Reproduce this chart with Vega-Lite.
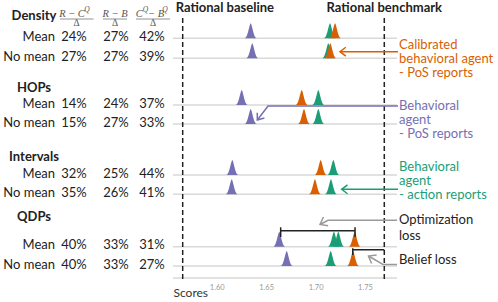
{
  "$schema": "https://vega.github.io/schema/vega-lite/v6.json",
  "padding": 0,
  "background": "white",
  "spacing": 0,
  "bounds": "flush",
  "config": {"view": {"stroke": null}, "font": "Lato"},
  "datasets": {
    "groups": [
      {"group": "Density", "y": 1.6},
      {"group": "HOPs", "y": 8.75},
      {"group": "Intervals", "y": 15.65},
      {"group": "QDPs", "y": 21.65}
    ],
    "rows": [
      {"row": "Density Mean", "cond": "Mean", "y": 3.83, "p1": "24%", "p2": "27%", "p3": "42%"},
      {"row": "Density No mean", "cond": "No mean", "y": 5.83, "p1": "27%", "p2": "27%", "p3": "39%"},
      {"row": "HOPs Mean", "cond": "Mean", "y": 10.5, "p1": "14%", "p2": "24%", "p3": "37%"},
      {"row": "HOPs No mean", "cond": "No mean", "y": 12.4, "p1": "15%", "p2": "27%", "p3": "33%"},
      {"row": "Intervals Mean", "cond": "Mean", "y": 17.5, "p1": "32%", "p2": "25%", "p3": "44%"},
      {"row": "Intervals No mean", "cond": "No mean", "y": 19.43, "p1": "35%", "p2": "26%", "p3": "41%"},
      {"row": "QDPs Mean", "cond": "Mean", "y": 24.67, "p1": "40%", "p2": "33%", "p3": "31%"},
      {"row": "QDPs No mean", "cond": "No mean", "y": 26.6, "p1": "40%", "p2": "33%", "p3": "27%"}
    ],
    "hdr": [
      {"t": "R − C", "k": "n", "x": 72, "y": 1.35},
      {"t": "Q", "k": "s", "x": 87, "y": 0.95},
      {"t": "R − B", "k": "n", "x": 115, "y": 1.35},
      {"t": "C", "k": "n", "x": 139.2, "y": 1.35},
      {"t": "Q", "k": "s", "x": 145.5, "y": 0.95},
      {"t": "− B", "k": "n", "x": 156, "y": 1.35},
      {"t": "Q", "k": "s", "x": 165, "y": 0.95},
      {"t": "Δ", "k": "d", "x": 76.5, "y": 2.3},
      {"t": "Δ", "k": "d", "x": 115, "y": 2.3},
      {"t": "Δ", "k": "d", "x": 153, "y": 2.3}
    ],
    "hdrbars": [
      {"x": 60, "x2": 93.5, "y": 1.9},
      {"x": 103, "x2": 127, "y": 1.9},
      {"x": 136, "x2": 170, "y": 1.9}
    ],
    "bench": [
      {"name": "Rational baseline", "score": 1.5656},
      {"name": "Rational benchmark", "score": 1.7695}
    ],
    "peaks": [
      {"row": "Density Mean", "agent": "beh", "score": 1.6344},
      {"row": "Density Mean", "agent": "act", "score": 1.7146},
      {"row": "Density Mean", "agent": "cal", "score": 1.7197},
      {"row": "Density No mean", "agent": "beh", "score": 1.636},
      {"row": "Density No mean", "agent": "act", "score": 1.7129},
      {"row": "Density No mean", "agent": "cal", "score": 1.7149},
      {"row": "HOPs Mean", "agent": "beh", "score": 1.6253},
      {"row": "HOPs Mean", "agent": "act", "score": 1.7028},
      {"row": "HOPs Mean", "agent": "cal", "score": 1.686},
      {"row": "HOPs No mean", "agent": "beh", "score": 1.6344},
      {"row": "HOPs No mean", "agent": "act", "score": 1.7028},
      {"row": "HOPs No mean", "agent": "cal", "score": 1.6883},
      {"row": "Intervals Mean", "agent": "beh", "score": 1.6158},
      {"row": "Intervals Mean", "agent": "act", "score": 1.718},
      {"row": "Intervals Mean", "agent": "cal", "score": 1.7052},
      {"row": "Intervals No mean", "agent": "beh", "score": 1.6152},
      {"row": "Intervals No mean", "agent": "act", "score": 1.7156},
      {"row": "Intervals No mean", "agent": "cal", "score": 1.6994},
      {"row": "QDPs Mean", "agent": "beh", "score": 1.6633},
      {"row": "QDPs Mean", "agent": "act", "score": 1.7186},
      {"row": "QDPs Mean", "agent": "act", "score": 1.723},
      {"row": "QDPs Mean", "agent": "cal", "score": 1.7396},
      {"row": "QDPs No mean", "agent": "beh", "score": 1.6708},
      {"row": "QDPs No mean", "agent": "act", "score": 1.7153},
      {"row": "QDPs No mean", "agent": "cal", "score": 1.7379}
    ],
    "brackets": [
      {"x": 1.6647, "x2": 1.7399, "y": 23.07, "y2": 23.07},
      {"x": 1.6647, "x2": 1.6647, "y": 22.73, "y2": 23.7},
      {"x": 1.7399, "x2": 1.7399, "y": 22.73, "y2": 23.7},
      {"x": 1.7376, "x2": 1.7695, "y": 24.97, "y2": 24.97},
      {"x": 1.7376, "x2": 1.7376, "y": 24.83, "y2": 25.5}
    ],
    "alines": [
      {"id": "cal", "agent": "cal", "o": 1, "x": 1.7834, "y": 5.17},
      {"id": "cal", "agent": "cal", "o": 2, "x": 1.7247, "y": 5.17},
      {"id": "behp", "agent": "beh", "o": 1, "x": 1.7834, "y": 10.6},
      {"id": "behp", "agent": "beh", "o": 2, "x": 1.6519, "y": 10.6},
      {"id": "behp", "agent": "beh", "o": 3, "x": 1.6411, "y": 12.0},
      {"id": "act", "agent": "act", "o": 1, "x": 1.7834, "y": 18.93},
      {"id": "act", "agent": "act", "o": 2, "x": 1.7264, "y": 18.93},
      {"id": "opt", "agent": "lossline", "o": 1, "x": 1.7824, "y": 22.03},
      {"id": "opt", "agent": "lossline", "o": 2, "x": 1.7126, "y": 22.03},
      {"id": "opt", "agent": "lossline", "o": 3, "x": 1.7045, "y": 22.45},
      {"id": "bel", "agent": "lossline", "o": 1, "x": 1.7824, "y": 26.45},
      {"id": "bel", "agent": "lossline", "o": 2, "x": 1.7682, "y": 26.45},
      {"id": "bel", "agent": "lossline", "o": 3, "x": 1.7535, "y": 25.6}
    ],
    "aheads": [
      {"id": "cal", "agent": "cal", "x": 1.7247, "y": 5.17},
      {"id": "act", "agent": "act", "x": 1.7264, "y": 18.93},
      {"id": "behp", "agent": "beh", "x": 1.6411, "y": 12.0},
      {"id": "opt", "agent": "lossline", "x": 1.7045, "y": 22.45},
      {"id": "bel", "agent": "lossline", "x": 1.7535, "y": 25.6}
    ],
    "atext": [
      {"t": "Calibrated", "agent": "cal", "y": 4.6},
      {"t": "behavioral agent", "agent": "cal", "y": 6.0},
      {"t": "- PoS reports", "agent": "cal", "y": 7.35},
      {"t": "Behavioral", "agent": "beh", "y": 10.65},
      {"t": "agent", "agent": "beh", "y": 12.05},
      {"t": "- PoS reports", "agent": "beh", "y": 13.45},
      {"t": "Behavioral", "agent": "act", "y": 16.83},
      {"t": "agent", "agent": "act", "y": 18.23},
      {"t": "- action reports", "agent": "act", "y": 19.57},
      {"t": "Optimization", "agent": "loss", "y": 22.07},
      {"t": "loss", "agent": "loss", "y": 23.73},
      {"t": "Belief loss", "agent": "loss", "y": 26.1}
    ]
  },
  "hconcat": [
    {
      "width": 173,
      "height": 278,
      "layer": [
        {
          "data": {"name": "groups"},
          "mark": {"type": "text", "fontWeight": "bold", "fontSize": 13, "align": "center", "baseline": "middle", "color": "#222"},
          "encoding": {
            "x": {"datum": 34, "type": "quantitative", "scale": {"domain": [0, 173], "nice": false, "zero": false}, "axis": null},
            "y": {"field": "y", "type": "quantitative", "scale": {"domain": [0, 27.8], "reverse": true, "nice": false, "zero": false}, "axis": null},
            "text": {"field": "group"}
          }
        },
        {
          "data": {"name": "rows"},
          "mark": {"type": "text", "fontSize": 13, "align": "right", "baseline": "middle", "color": "#222", "dy": -1.5},
          "encoding": {
            "x": {"datum": 55, "type": "quantitative", "axis": null},
            "y": {"field": "y", "type": "quantitative", "axis": null},
            "text": {"field": "cond"}
          }
        },
        {
          "data": {"name": "rows"},
          "mark": {"type": "text", "fontSize": 13, "align": "center", "baseline": "middle", "color": "#222", "dy": -1.5},
          "encoding": {
            "x": {"datum": 74, "type": "quantitative", "axis": null},
            "y": {"field": "y", "type": "quantitative", "axis": null},
            "text": {"field": "p1"}
          }
        },
        {
          "data": {"name": "rows"},
          "mark": {"type": "text", "fontSize": 13, "align": "center", "baseline": "middle", "color": "#222", "dy": -1.5},
          "encoding": {
            "x": {"datum": 116, "type": "quantitative", "axis": null},
            "y": {"field": "y", "type": "quantitative", "axis": null},
            "text": {"field": "p2"}
          }
        },
        {
          "data": {"name": "rows"},
          "mark": {"type": "text", "fontSize": 13, "align": "center", "baseline": "middle", "color": "#222", "dy": -1.5},
          "encoding": {
            "x": {"datum": 152, "type": "quantitative", "axis": null},
            "y": {"field": "y", "type": "quantitative", "axis": null},
            "text": {"field": "p3"}
          }
        },
        {
          "data": {"name": "hdr"},
          "transform": [{"filter": "datum.k === 'n'"}],
          "mark": {"type": "text", "font": "Liberation Serif", "fontStyle": "italic", "fontSize": 10.5, "align": "center", "baseline": "middle", "color": "#555"},
          "encoding": {
            "x": {"field": "x", "type": "quantitative", "axis": null},
            "y": {"field": "y", "type": "quantitative", "axis": null},
            "text": {"field": "t"}
          }
        },
        {
          "data": {"name": "hdr"},
          "transform": [{"filter": "datum.k === 's'"}],
          "mark": {"type": "text", "font": "Liberation Serif", "fontStyle": "italic", "fontSize": 7.5, "align": "center", "baseline": "middle", "color": "#555"},
          "encoding": {
            "x": {"field": "x", "type": "quantitative", "axis": null},
            "y": {"field": "y", "type": "quantitative", "axis": null},
            "text": {"field": "t"}
          }
        },
        {
          "data": {"name": "hdr"},
          "transform": [{"filter": "datum.k === 'd'"}],
          "mark": {"type": "text", "font": "Liberation Serif", "fontSize": 9.5, "align": "center", "baseline": "middle", "color": "#555"},
          "encoding": {
            "x": {"field": "x", "type": "quantitative", "axis": null},
            "y": {"field": "y", "type": "quantitative", "axis": null},
            "text": {"field": "t"}
          }
        },
        {
          "data": {"name": "hdrbars"},
          "mark": {"type": "rule", "color": "#777", "strokeWidth": 0.8},
          "encoding": {
            "x": {"field": "x", "type": "quantitative", "axis": null},
            "x2": {"field": "x2"},
            "y": {"field": "y", "type": "quantitative", "axis": null}
          }
        }
      ]
    },
    {
      "width": 325,
      "height": 278,
      "layer": [
        {
          "data": {"name": "rows"},
          "mark": {"type": "rule", "color": "#d9d9d9", "strokeWidth": 1.5},
          "encoding": {
            "x": {
              "datum": 1.5558, "type": "quantitative",
              "scale": {"domain": [1.5558, 1.8845], "nice": false, "zero": false},
              "axis": {
                "values": [1.6, 1.65, 1.7, 1.75], "format": ".2f", "domain": false, "ticks": false, "tickSize": 0, "grid": false,
                "labelFontSize": 7.5, "labelColor": "#999", "labelPadding": 5,
                "title": "Scores", "titleFontSize": 12, "titleFontWeight": "normal", "titleColor": "#333",
                "titleAnchor": "start", "titleAlign": "left", "titleX": 0, "titleY": 14, "titleBaseline": "middle"
              }
            },
            "x2": {"datum": 1.7824},
            "y": {"field": "y", "type": "quantitative", "scale": {"domain": [0, 27.8], "reverse": true, "nice": false, "zero": false}, "axis": null}
          }
        },
        {
          "data": {"values": [{"y": 27.8}]},
          "mark": {"type": "rule", "color": "#d9d9d9", "strokeWidth": 1.5},
          "encoding": {
            "x": {"datum": 1.5558, "type": "quantitative"},
            "x2": {"datum": 1.7824},
            "y": {"field": "y", "type": "quantitative", "axis": null}
          }
        },
        {
          "data": {"name": "bench"},
          "mark": {"type": "rule", "color": "#222", "strokeWidth": 1.5, "strokeDash": [5, 3]},
          "encoding": {
            "x": {"field": "score", "type": "quantitative"},
            "y": {"datum": 1.8, "type": "quantitative", "axis": null},
            "y2": {"datum": 28.1}
          }
        },
        {
          "data": {"name": "alines"},
          "mark": {"type": "line", "strokeWidth": 1.5},
          "encoding": {
            "x": {"field": "x", "type": "quantitative"},
            "y": {"field": "y", "type": "quantitative", "axis": null},
            "detail": {"field": "id"},
            "order": {"field": "o", "type": "quantitative"},
            "color": {"field": "agent", "type": "nominal", "legend": null, "scale": {"domain": ["beh", "cal", "act", "loss", "lossline"], "range": ["#7570b3", "#d95f02", "#1b9e77", "#222222", "#9a9a9a"]}}
          }
        },
        {
          "data": {"name": "peaks"},
          "transform": [{"lookup": "row", "from": {"data": {"name": "rows"}, "key": "row", "fields": ["y"]}}],
          "mark": {"type": "point", "filled": true, "opacity": 1, "strokeWidth": 0, "size": 225, "shape": "M-0.8,0 C-0.4,0 -0.16,-2 0,-2 C0.16,-2 0.4,0 0.8,0 Z"},
          "encoding": {
            "x": {"field": "score", "type": "quantitative"},
            "y": {"field": "y", "type": "quantitative", "axis": null},
            "color": {"field": "agent", "type": "nominal", "legend": null, "scale": {"domain": ["beh", "cal", "act", "loss", "lossline"], "range": ["#7570b3", "#d95f02", "#1b9e77", "#222222", "#9a9a9a"]}}
          }
        },
        {
          "data": {"name": "brackets"},
          "mark": {"type": "rule", "color": "#222", "strokeWidth": 1.5},
          "encoding": {
            "x": {"field": "x", "type": "quantitative"},
            "x2": {"field": "x2"},
            "y": {"field": "y", "type": "quantitative", "axis": null},
            "y2": {"field": "y2"}
          }
        },
        {
          "data": {"name": "aheads"},
          "transform": [{"filter": "datum.id === 'cal' || datum.id === 'act'"}],
          "mark": {"type": "point", "filled": false, "strokeWidth": 1.5, "size": 80, "opacity": 1, "shape": "M1.3,-1 L0,0 L1.3,1", "angle": 0},
          "encoding": {
            "x": {"field": "x", "type": "quantitative"},
            "y": {"field": "y", "type": "quantitative", "axis": null},
            "color": {"field": "agent", "type": "nominal", "legend": null, "scale": {"domain": ["beh", "cal", "act", "loss", "lossline"], "range": ["#7570b3", "#d95f02", "#1b9e77", "#222222", "#9a9a9a"]}}
          }
        },
        {
          "data": {"name": "aheads"},
          "transform": [{"filter": "datum.id === 'behp'"}],
          "mark": {"type": "point", "filled": false, "strokeWidth": 1.5, "size": 80, "opacity": 1, "shape": "M1.3,-1 L0,0 L1.3,1", "angle": 307},
          "encoding": {
            "x": {"field": "x", "type": "quantitative"},
            "y": {"field": "y", "type": "quantitative", "axis": null},
            "color": {"field": "agent", "type": "nominal", "legend": null, "scale": {"domain": ["beh", "cal", "act", "loss", "lossline"], "range": ["#7570b3", "#d95f02", "#1b9e77", "#222222", "#9a9a9a"]}}
          }
        },
        {
          "data": {"name": "aheads"},
          "transform": [{"filter": "datum.id === 'opt'"}],
          "mark": {"type": "point", "filled": false, "strokeWidth": 1.5, "size": 100, "opacity": 1, "shape": "M1.3,-1 L0,0 L1.3,1", "angle": 332},
          "encoding": {
            "x": {"field": "x", "type": "quantitative"},
            "y": {"field": "y", "type": "quantitative", "axis": null},
            "color": {"field": "agent", "type": "nominal", "legend": null, "scale": {"domain": ["beh", "cal", "act", "loss", "lossline"], "range": ["#7570b3", "#d95f02", "#1b9e77", "#222222", "#9a9a9a"]}}
          }
        },
        {
          "data": {"name": "aheads"},
          "transform": [{"filter": "datum.id === 'bel'"}],
          "mark": {"type": "point", "filled": false, "strokeWidth": 1.5, "size": 100, "opacity": 1, "shape": "M1.3,-1 L0,0 L1.3,1", "angle": 30},
          "encoding": {
            "x": {"field": "x", "type": "quantitative"},
            "y": {"field": "y", "type": "quantitative", "axis": null},
            "color": {"field": "agent", "type": "nominal", "legend": null, "scale": {"domain": ["beh", "cal", "act", "loss", "lossline"], "range": ["#7570b3", "#d95f02", "#1b9e77", "#222222", "#9a9a9a"]}}
          }
        },
        {
          "data": {"name": "bench"},
          "transform": [{"filter": "datum.name === 'Rational baseline'"}],
          "mark": {"type": "text", "fontSize": 13, "fontWeight": "bold", "align": "left", "baseline": "middle", "color": "#222", "dx": -7},
          "encoding": {
            "x": {"field": "score", "type": "quantitative"},
            "y": {"datum": 0.8, "type": "quantitative", "axis": null},
            "text": {"field": "name"}
          }
        },
        {
          "data": {"name": "bench"},
          "transform": [{"filter": "datum.name === 'Rational benchmark'"}],
          "mark": {"type": "text", "fontSize": 13, "fontWeight": "bold", "align": "center", "baseline": "middle", "color": "#222"},
          "encoding": {
            "x": {"field": "score", "type": "quantitative"},
            "y": {"datum": 0.8, "type": "quantitative", "axis": null},
            "text": {"field": "name"}
          }
        },
        {
          "data": {"name": "atext"},
          "mark": {"type": "text", "fontSize": 13, "align": "left", "baseline": "middle", "dy": -1},
          "encoding": {
            "x": {"datum": 1.7844, "type": "quantitative"},
            "y": {"field": "y", "type": "quantitative", "axis": null},
            "text": {"field": "t"},
            "color": {"field": "agent", "type": "nominal", "legend": null, "scale": {"domain": ["beh", "cal", "act", "loss", "lossline"], "range": ["#7570b3", "#d95f02", "#1b9e77", "#222222", "#9a9a9a"]}}
          }
        }
      ]
    }
  ]
}
